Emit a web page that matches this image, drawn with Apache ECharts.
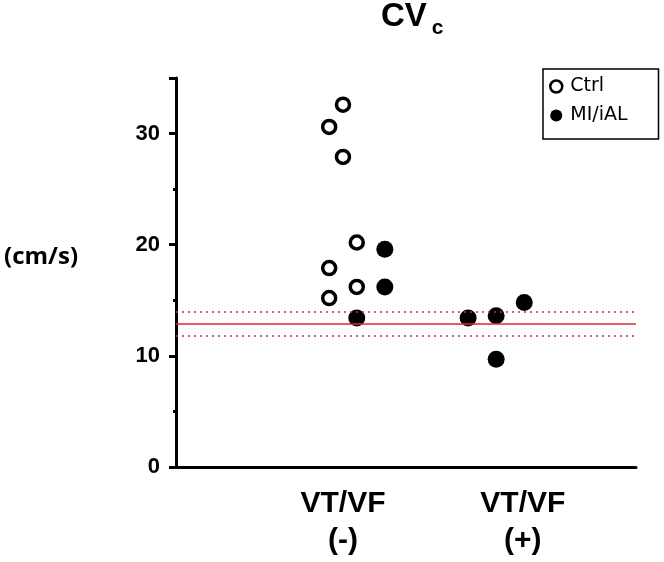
<!doctype html>
<html>
<head>
<meta charset="utf-8">
<title>CVc</title>
<script src="https://cdn.jsdelivr.net/npm/echarts@6/dist/echarts.min.js"></script>
<style>
  html, body { margin: 0; padding: 0; background: #fff; }
  #chart { width: 664px; height: 562px; }
</style>
</head>
<body>
<div id="chart"></div>
<script>
// x positions (groups with horizontal jitter)
var ctrlX = [3.63, 3.33, 3.63, 3.93, 3.33, 3.93, 3.33];
var ctrlY = [32.6, 30.6, 27.9, 20.2, 17.9, 16.2, 15.2];
var miX = [4.54, 4.54, 3.93, 6.35, 6.96, 7.57, 6.96];
var miY = [19.6, 16.2, 13.4, 13.4, 13.6, 14.8, 9.7];

var groupLabels = ['VT/VF\n(-)', 'VT/VF\n(+)'];
var groupLabelX = [3.63, 7.54];
var yTicks = [0, 10, 20, 30];

var refMean = 12.9;
var refBand = [11.8, 14.0];

function pairs(xs, ys) {
  return xs.map(function (x, i) { return [x, ys[i]]; });
}

var chart = echarts.init(document.getElementById('chart'));
var red = '#e3262d';

chart.setOption({
  animation: false,
  title: {
    text: '{m|CV}{s|c}',
    left: 381,
    top: 0,
    padding: 0,
    textStyle: {
      rich: {
        m: { fontFamily: 'Liberation Sans', fontWeight: 'bold', fontSize: 33, lineHeight: 36, verticalAlign: 'top', color: '#000' },
        s: { fontFamily: 'Liberation Sans', fontWeight: 'bold', fontSize: 21, lineHeight: 24, verticalAlign: 'top', padding: [18, 0, 0, 5], color: '#000' }
      }
    }
  },
  legend: {
    orient: 'vertical',
    left: 543,
    top: 69,
    padding: [8, 31, 14, 6],
    itemGap: 10,
    itemWidth: 12,
    itemHeight: 12,
    borderColor: '#000',
    borderWidth: 1.5,
    textStyle: { fontFamily: 'DejaVu Sans', fontSize: 19, color: '#000', padding: [0, 0, 0, 3] },
    data: [
      { name: 'Ctrl', icon: 'circle', itemStyle: { color: '#fff', borderColor: '#000', borderWidth: 2.5 } },
      { name: 'MI/iAL', icon: 'circle', itemStyle: { color: '#000', borderWidth: 0 } }
    ]
  },
  grid: { left: 176, right: 28, top: 78, bottom: 95 },
  xAxis: {
    type: 'value',
    min: 0,
    max: 10,
    splitLine: { show: false },
    axisLine: { show: true, onZero: false, lineStyle: { color: '#000', width: 3 } },
    axisTick: { show: false },
    axisLabel: {
      customValues: groupLabelX,
      margin: 18,
      fontFamily: 'Liberation Sans',
      fontWeight: 'bold',
      fontSize: 30,
      lineHeight: 37,
      color: '#000',
      formatter: function (v) {
        var i = groupLabelX.indexOf(v);
        return i >= 0 ? groupLabels[i] : '';
      }
    }
  },
  yAxis: {
    type: 'value',
    min: 0,
    max: 35,
    interval: 10,
    name: '(cm/s)',
    nameLocation: 'middle',
    nameRotate: 0,
    nameGap: 135,
    nameTextStyle: {
      fontFamily: 'Open Sans',
      fontWeight: 'bold',
      fontSize: 24,
      lineHeight: 31,
      color: '#000',
      align: 'center',
      verticalAlign: 'bottom'
    },
    splitLine: { show: false },
    axisLine: { show: true, lineStyle: { color: '#000', width: 3 } },
    axisTick: { show: true, length: 7, lineStyle: { color: '#000', width: 3 } },
    minorTick: { show: true, splitNumber: 2, length: 3, lineStyle: { color: '#000', width: 3 } },
    axisLabel: {
      margin: 16,
      fontFamily: 'Liberation Sans',
      fontWeight: 'bold',
      fontSize: 22,
      color: '#000',
      formatter: function (v) { return yTicks.indexOf(v) >= 0 ? String(v) : ''; }
    }
  },
  series: [
    {
      name: 'Ctrl',
      type: 'scatter',
      symbol: 'circle',
      symbolSize: 13,
      itemStyle: { color: '#fff', borderColor: '#000', borderWidth: 3.5, opacity: 1 },
      data: pairs(ctrlX, ctrlY),
      z: 3,
      markLine: {
        silent: true,
        symbol: 'none',
        label: { show: false },
        data: [
          { yAxis: refMean, lineStyle: { color: red, width: 1.5, type: 'solid' } },
          { yAxis: refBand[0], lineStyle: { color: red, width: 1.5, type: [2, 4] } },
          { yAxis: refBand[1], lineStyle: { color: red, width: 1.5, type: [2, 4] } }
        ]
      }
    },
    {
      name: 'MI/iAL',
      type: 'scatter',
      symbol: 'circle',
      symbolSize: 17,
      itemStyle: { color: '#000', opacity: 1 },
      data: pairs(miX, miY),
      z: 4
    }
  ]
});
</script>
</body>
</html>
